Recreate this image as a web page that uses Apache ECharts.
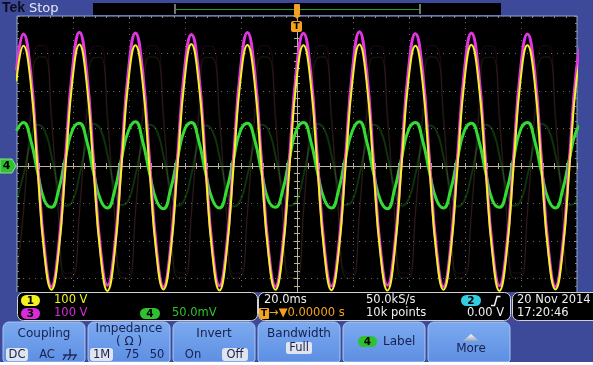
<!DOCTYPE html>
<html><head><meta charset="utf-8">
<script src="https://cdn.jsdelivr.net/npm/echarts@6/dist/echarts.min.js"></script>
<style>html,body{margin:0;padding:0;background:#fff;overflow:hidden}#c{width:593px;height:365px}</style>
</head><body><div id="c"></div>
<script>
// sample times (ms), screen spans -100..100 ms (20.0 ms/div)
const times = [-100.2,-97.7,-95.2,-92.7,-90.2,-87.7,-85.2,-82.7,-80.2,-77.7,-75.2,-72.7,-70.2,-67.7,-65.2,-62.7,-60.2,-57.7,-55.2,-52.7,-50.2,-47.7,-45.2,-42.7,-40.2,-37.7,-35.2,-32.7,-30.2,-27.7,-25.2,-22.7,-20.2,-17.7,-15.2,-12.7,-10.2,-7.7,-5.2,-2.7,-0.2,2.3,4.8,7.3,9.8,12.3,14.8,17.3,19.8,22.3,24.8,27.3,29.8,32.3,34.8,37.3,39.8,42.3,44.8,47.3,49.8,52.3,54.8,57.3,59.8,62.3,64.8,67.3,69.8,72.3,74.8,77.3,79.8,82.3,84.8,87.3,89.8,92.3,94.8,97.3,99.8,102.3];
// Channel 3 (magenta), volts (100 V/div)
const ch3Volts = [255,352,254,16,-222,-321,-220,18,256,357,255,17,-221,-318,-222,16,254,355,256,18,-220,-322,-221,17,255,351,253,16,-222,-319,-220,18,256,356,255,17,-221,-321,-222,16,255,354,254,18,-220,-320,-221,17,254,358,256,16,-222,-318,-220,17,256,353,255,17,-221,-322,-221,18,255,355,254,16,-220,-319,-222,17,254,352,255,18,-221,-321,-220,16,256,355];
// Channel 1 (yellow), volts (100 V/div)
const ch1Volts = [226,321,228,-3,-236,-330,-234,-5,228,324,226,-4,-235,-333,-236,-3,227,322,227,-5,-234,-329,-235,-4,226,325,228,-3,-236,-332,-234,-4,228,323,226,-4,-235,-330,-236,-5,227,322,227,-3,-234,-331,-235,-4,226,324,228,-5,-236,-332,-234,-3,228,321,226,-4,-235,-330,-235,-4,227,323,227,-3,-234,-333,-236,-5,226,322,228,-4,-235,-329,-234,-3,227,324];
// Channel 4 (green), millivolts (50.0 mV/div)
const ch4mV = [47,58,36,-7,-46,-55,-33,11,48,57,35,-8,-45,-56,-34,10,47,59,34,-9,-46,-57,-32,10,48,58,35,-8,-45,-56,-33,9,47,57,36,-7,-46,-55,-34,10,48,58,35,-8,-45,-56,-33,11,47,59,34,-9,-46,-57,-32,10,48,58,35,-8,-45,-56,-33,10,47,57,36,-7,-46,-55,-34,9,48,58,35,-8,-45,-56,-33,10,47,58];
// faint persistence (previous acquisition) traces
const ghost3Volts = [-285,-112,146,320,321,145,-113,-286,-284,-111,147,319,320,146,-112,-285,-286,-112,145,321,320,147,-111,-284,-285,-113,146,320,319,146,-112,-286,-284,-112,147,321,320,145,-113,-285,-285,-111,146,319,321,146,-112,-284,-286,-112,145,320,320,147,-111,-285,-285,-113,146,321,319,146,-112,-286,-284,-112,147,320,320,145,-113,-285,-285,-111,146,319,321,146,-112,-284,-285,-112];
const ghost1Volts = [-298,-129,121,290,291,120,-130,-299,-297,-128,122,289,290,121,-129,-298,-299,-129,120,291,290,122,-128,-297,-298,-130,121,290,289,121,-129,-299,-297,-129,122,291,290,120,-130,-298,-298,-128,121,289,291,121,-129,-297,-299,-129,120,290,290,122,-128,-298,-298,-130,121,291,289,121,-129,-299,-297,-129,122,290,290,120,-130,-298,-298,-128,121,289,291,121,-129,-297,-298,-129];
const ghost4mV = [-46,-12,31,55,48,14,-29,-53,-47,-13,30,56,49,15,-28,-52,-46,-12,31,55,48,14,-29,-53,-45,-11,32,54,47,13,-30,-54,-46,-12,31,55,48,14,-29,-53,-47,-13,30,56,49,15,-28,-52,-46,-12,31,55,48,14,-29,-53,-45,-11,32,54,47,13,-30,-54,-46,-12,31,55,48,14,-29,-53,-47,-13,30,56,49,15,-28,-52,-46,-12];

const chart = echarts.init(document.getElementById('c'), null, {renderer:'canvas'});
const pair = (vals) => times.map((t, i) => [t, vals[i]]);

const FRAME = '#3c4a99';
const NAVY = '#17204e';
const FF = '"DejaVu Sans", sans-serif';
const TAN = '#b9b39a';

function txt(x, y, text, fill, size, extra) {
  return Object.assign({type:'text', x:x, y:y, z:100, silent:true,
    style:Object.assign({text:text, fill:fill, fontSize:size, fontFamily:FF, align:'left', verticalAlign:'middle'}, (extra||{}))});
}
function rect(x, y, w, h, fill, r, stroke, lw) {
  return {type:'rect', z:100, silent:true, shape:{x:x, y:y, width:w, height:h, r:r||0},
    style:{fill:fill, stroke:stroke||null, lineWidth:lw||0}};
}
function line(pts, stroke, lw) {
  return {type:'polyline', z:100, silent:true, shape:{points:pts}, style:{stroke:stroke, lineWidth:lw||1, fill:null}};
}
function pill(x, y, w, h, fill, label) {
  return [rect(x, y, w, h, fill, h/2), txt(x + w/2, y + h/2 + 0.5, label, '#000', 10.5, {align:'center', fontWeight:'bold'})];
}

const btnGrad = new echarts.graphic.LinearGradient(0,0,0,1,[{offset:0,color:'#7cabf1'},{offset:1,color:'#5d8ee2'}]);
function button(x, w) {
  return rect(x, 322, w, 40, btnGrad, [6,6,3,3], '#a9c5f3', 1);
}

const elements = [].concat(
  // top bar
  [txt(2, 8.5, 'Tek', '#0e0e1c', 14, {fontWeight:'bold', fontFamily:'"Liberation Sans", sans-serif'}),
   txt(29, 8.5, 'Stop', '#e6e6f6', 13),
   rect(93, 3, 408, 12, '#000'),
   line([[175,4],[175,14]], '#9a9a9a', 1.5),
   line([[420,4],[420,14]], '#9a9a9a', 1.5),
   line([[176,9.5],[419,9.5]], '#2f9a2f', 1),
   rect(294, 4, 6, 11, '#f3a21f', 1),
   {type:'polygon', z:100, silent:true, shape:{points:[[293,15],[301,15],[297,19]]}, style:{fill:'#f3a21f'}},
   rect(291, 21, 11, 11, '#f3a21f', 2),
   txt(296.5, 27, 'T', '#000', 9, {align:'center', fontWeight:'bold'}),
   // channel 4 ground marker
   {type:'polygon', z:100, silent:true, shape:{points:[[0,159],[12,159],[16,166],[12,173],[0,173]]}, style:{fill:'#2fc12f', stroke:'#8ae08a', lineWidth:1}},
   txt(6.5, 166.5, '4', '#000', 11, {align:'center', fontWeight:'bold'}),
   // readout strip background
   rect(0, 292, 593, 30, FRAME),
   rect(17.5, 292.5, 240, 28, '#000', 6, '#d2d2d2', 1),
   rect(258.5, 292.5, 252, 28, '#000', 6, '#d2d2d2', 1),
   rect(512.5, 292.5, 90, 28, '#000', 6, '#d2d2d2', 1)],
  pill(21, 295, 19, 11, '#f2f21e', '1'),
  [txt(54, 300.5, '100 V', '#f2f21e', 11.5)],
  pill(21, 308, 19, 11, '#d92bd9', '3'),
  [txt(54, 313.5, '100 V', '#d92bd9', 11.5)],
  pill(140, 308, 20, 11, '#2fc12f', '4'),
  [txt(172, 313.5, '50.0mV', '#2fc12f', 11.5)],
  [txt(264, 300.5, '20.0ms', '#f0f0f0', 11.5),
   txt(366, 300.5, '50.0kS/s', '#f0f0f0', 11.5)],
  pill(461, 295, 20, 11, '#33cde0', '2'),
  [line([[491,305.5],[494.5,305.5],[497,296.5],[500.5,296.5]], '#f0f0f0', 1.5),
   rect(259, 308, 10, 11, '#f3a21f', 1),
   txt(264, 314, 'T', '#000', 9, {align:'center', fontWeight:'bold'}),
   txt(269, 313.5, '\u2192\u25BC0.00000 s', '#f3a21f', 11.5),
   txt(366, 313.5, '10k points', '#f0f0f0', 11.5),
   txt(467, 313.5, '0.00 V', '#f0f0f0', 11.5),
   txt(517, 300.5, '20 Nov 2014', '#f0f0f0', 11.5),
   txt(517, 313.5, '17:20:46', '#f0f0f0', 11.5),
   // menu buttons
   button(3, 82), button(88, 82), button(173, 82), button(258, 82), button(343, 82), button(428, 82),
   txt(44, 334, 'Coupling', NAVY, 12, {align:'center'}),
   rect(6, 348, 22, 13, '#dfe4ee', 3),
   txt(17, 355, 'DC', NAVY, 11.5, {align:'center'}),
   txt(47, 355, 'AC', NAVY, 11.5, {align:'center'}),
   line([[70,349],[70,355]], NAVY, 1.3),
   line([[63,355],[77,355]], NAVY, 1.3),
   line([[66,355],[63,360]], NAVY, 1.2),
   line([[71,355],[68,360]], NAVY, 1.2),
   line([[76,355],[73,360]], NAVY, 1.2),
   txt(129, 329, 'Impedance', NAVY, 12, {align:'center'}),
   txt(129, 342, '( \u03A9 )', NAVY, 12, {align:'center'}),
   rect(90, 348, 23, 13, '#dfe4ee', 3),
   txt(101.5, 355, '1M', NAVY, 11.5, {align:'center'}),
   txt(132, 355, '75', NAVY, 11.5, {align:'center'}),
   txt(157, 355, '50', NAVY, 11.5, {align:'center'}),
   txt(214, 334, 'Invert', NAVY, 12, {align:'center'}),
   txt(193, 355, 'On', NAVY, 11.5, {align:'center'}),
   rect(222, 348, 26, 13, '#dfe4ee', 3),
   txt(235, 355, 'Off', NAVY, 11.5, {align:'center'}),
   txt(299, 334, 'Bandwidth', NAVY, 12, {align:'center'}),
   rect(286, 342, 26, 12, '#dfe4ee', 2),
   txt(299, 348, 'Full', NAVY, 11.5, {align:'center'})],
  pill(358, 336, 19, 11, '#2fc12f', '4'),
  [txt(383, 341.5, 'Label', NAVY, 12),
   {type:'polygon', z:100, silent:true, shape:{points:[[463,341],[471,334],[479,341]]}, style:{fill:new echarts.graphic.LinearGradient(0,0,0,1,[{offset:0,color:'#ffffff'},{offset:1,color:'#9aa4b8'}])}},
   txt(471, 349, 'More', NAVY, 12, {align:'center'}),
   rect(0, 362, 593, 3, '#ffffff')]
);

const hidden = {show:false};
const option = {
  animation:false,
  backgroundColor: FRAME,
  grid:{left:17, top:16, width:560, height:300, show:true, backgroundColor:'#000', borderColor:'#8fa9d6', borderWidth:1},
  xAxis:[
    {type:'value', min:-100, max:100, interval:20, position:'bottom',
     axisLine:{show:true, onZero:true, lineStyle:{color:TAN, width:1}},
     axisTick:{show:true, inside:false, length:3, lineStyle:{color:TAN}},
     minorTick:{show:true, splitNumber:5, length:3, lineStyle:{color:TAN}},
     axisLabel:hidden,
     splitLine:{show:true, lineStyle:{color:'#6a6a6a', width:1, type:[1,5]}}},
    {type:'value', min:-100, max:100, interval:20, position:'bottom',
     axisLine:{show:false, onZero:true},
     axisTick:{show:true, inside:true, length:3, lineStyle:{color:TAN}},
     minorTick:{show:true, splitNumber:5, length:3, lineStyle:{color:TAN}},
     axisLabel:hidden, splitLine:hidden},
    {type:'value', min:-100, max:100, interval:20, position:'top',
     axisLine:{show:false, onZero:false},
     axisTick:{show:true, inside:true, length:3, lineStyle:{color:'#8a8a8a'}},
     minorTick:{show:true, splitNumber:5, length:2, lineStyle:{color:'#8a8a8a'}},
     axisLabel:hidden, splitLine:hidden}
  ],
  yAxis:[
    {type:'value', min:-4, max:4, interval:1, position:'left',
     axisLine:{show:true, onZero:true, lineStyle:{color:TAN, width:1}},
     axisTick:{show:true, inside:false, length:3, lineStyle:{color:TAN}},
     minorTick:{show:true, splitNumber:5, length:3, lineStyle:{color:TAN}},
     axisLabel:hidden,
     splitLine:{show:true, lineStyle:{color:'#6a6a6a', width:1, type:[1,5]}}},
    {type:'value', min:-400, max:400, show:false, axisLine:{onZero:false}},
    {type:'value', min:-200, max:200, show:false, axisLine:{onZero:false}},
    {type:'value', min:-4, max:4, interval:1, position:'left',
     axisLine:{show:false, onZero:true},
     axisTick:{show:true, inside:true, length:3, lineStyle:{color:TAN}},
     minorTick:{show:true, splitNumber:5, length:3, lineStyle:{color:TAN}},
     axisLabel:hidden, splitLine:hidden},
    {type:'value', min:-4, max:4, interval:1, position:'left',
     axisLine:{show:false, onZero:false},
     axisTick:{show:true, inside:true, length:3, lineStyle:{color:'#8a8a8a'}},
     minorTick:{show:true, splitNumber:5, length:2, lineStyle:{color:'#8a8a8a'}},
     axisLabel:hidden, splitLine:hidden},
    {type:'value', min:-4, max:4, interval:1, position:'right',
     axisLine:{show:false, onZero:false},
     axisTick:{show:true, inside:true, length:3, lineStyle:{color:'#8a8a8a'}},
     minorTick:{show:true, splitNumber:5, length:2, lineStyle:{color:'#8a8a8a'}},
     axisLabel:hidden, splitLine:hidden}
  ],
  series:[
    {type:'line', name:'ghost4', xAxisIndex:0, yAxisIndex:2, data:pair(ghost4mV), smooth:true, showSymbol:false, silent:true,
     lineStyle:{color:'#2a9a2a', width:2, opacity:0.32}},
    {type:'line', name:'ghost3', xAxisIndex:0, yAxisIndex:1, data:pair(ghost3Volts), smooth:true, showSymbol:false, silent:true,
     lineStyle:{color:'#b02ab0', width:1.2, opacity:0.14}},
    {type:'line', name:'ghost1', xAxisIndex:0, yAxisIndex:1, data:pair(ghost1Volts), smooth:true, showSymbol:false, silent:true,
     lineStyle:{color:'#b8b820', width:1.2, opacity:0.14}},
    {type:'line', name:'CH4', xAxisIndex:0, yAxisIndex:2, data:pair(ch4mV), smooth:true, showSymbol:false, silent:true,
     lineStyle:{color:'#34dc34', width:3}},
    {type:'line', name:'CH3', xAxisIndex:0, yAxisIndex:1, data:pair(ch3Volts), smooth:true, showSymbol:false, silent:true,
     lineStyle:{color:'#e236e2', width:3}},
    {type:'line', name:'CH1', xAxisIndex:0, yAxisIndex:1, data:pair(ch1Volts), smooth:true, showSymbol:false, silent:true,
     lineStyle:{color:'#f4f420', width:2}}
  ],
  graphic:{elements:elements}
};
chart.setOption(option);
</script>
</body></html>
